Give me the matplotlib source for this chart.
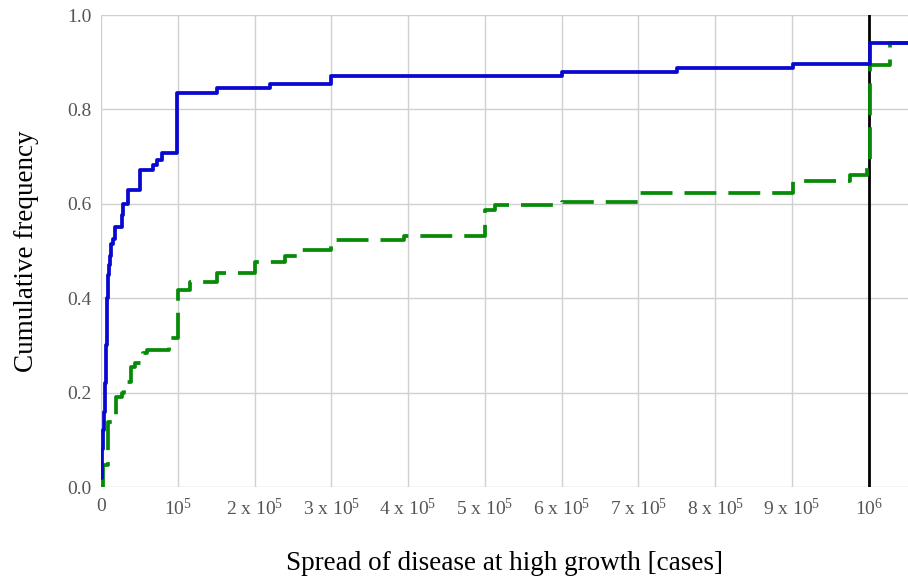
import numpy as np
import matplotlib.pyplot as plt

plt.rcParams['font.family'] = 'Liberation Serif'
plt.rcParams['mathtext.fontset'] = 'custom'
plt.rcParams['mathtext.rm'] = 'Liberation Serif'
plt.rcParams['mathtext.it'] = 'Liberation Serif:italic'

# Empirical cumulative frequency, step positions in cases
solid_x = [0, 1300, 2600, 3900, 5200, 6500, 7800, 9100, 10400, 11700, 13700,
           15600, 18200, 26900, 29000, 35500, 50800, 68000, 72500, 79000,
           99500, 150700, 220000, 300000, 601000, 750000, 901000, 1001000,
           1052000]
solid_y = [0.02, 0.08, 0.12, 0.16, 0.22, 0.30, 0.40, 0.45, 0.47, 0.49, 0.515,
           0.525, 0.55, 0.576, 0.60, 0.63, 0.672, 0.682, 0.693, 0.707,
           0.834, 0.845, 0.853, 0.871, 0.880, 0.887, 0.896, 0.941,
           0.941]

dashed_x = [0, 2500, 9000, 20000, 27000, 29500, 39000, 44000, 55000, 59500,
            88000, 100500, 116000, 150700, 200000, 240000, 255000, 300000,
            395000, 500000, 513000, 600000, 700000, 901000, 975000, 998000,
            1001500, 1028000, 1052000]
dashed_y = [0.0, 0.047, 0.138, 0.19, 0.20, 0.223, 0.255, 0.262, 0.283, 0.29,
            0.315, 0.417, 0.435, 0.453, 0.477, 0.489, 0.502, 0.523,
            0.532, 0.587, 0.597, 0.604, 0.622, 0.649, 0.661, 0.686,
            0.895, 0.94, 0.94]

xticks = np.arange(0, 1000001, 100000)
xticklabels = ['0', r'$10^5$'] + [f'{k} x $10^5$' for k in range(2, 10)] + [r'$10^6$']
yticks = [0.0, 0.2, 0.4, 0.6, 0.8, 1.0]

fig = plt.figure(figsize=(9.08, 5.78), dpi=100)
ax = fig.add_axes([0.1112, 0.1574, 0.8888, 0.8166])

ax.grid(True, color='#d0d0d0', linewidth=1.0, zorder=0)
ax.axvline(1000000, color='black', linewidth=2.0, zorder=2)
ax.step(dashed_x, dashed_y, where='post', color='#078a07', linewidth=2.7,
        dashes=(8.5, 3.2), zorder=3)
ax.step(solid_x, solid_y, where='post', color='#0808d0', linewidth=2.7, zorder=4)

ax.set_xlim(0, 1051000)
ax.set_ylim(0, 1.0)
ax.set_xticks(xticks)
ax.set_xticklabels(xticklabels)
ax.set_yticks(yticks)
ax.set_yticklabels([f'{v:.1f}' for v in yticks])
ax.tick_params(axis='both', length=0, labelsize=14, labelcolor='#555555')
ax.tick_params(axis='x', pad=8)
ax.tick_params(axis='y', pad=7)
for s in ax.spines.values():
    s.set_visible(False)

ax.set_xlabel('Spread of disease at high growth [cases]', fontsize=19.5, labelpad=23)
ax.set_ylabel('Cumulative frequency', fontsize=19.5, labelpad=20)

fig.savefig('out.png', dpi=100)
